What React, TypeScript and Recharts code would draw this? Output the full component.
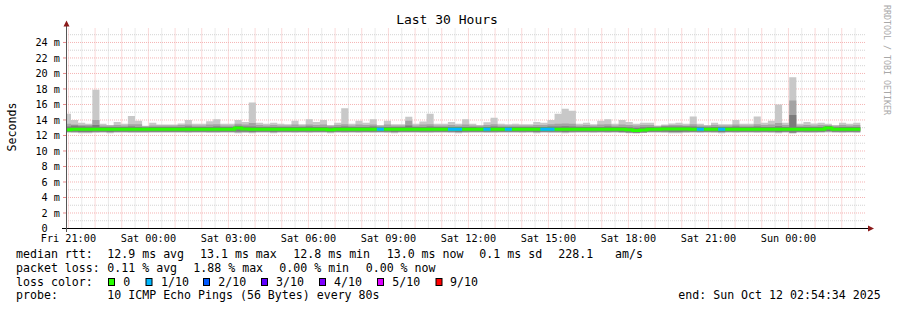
import React from 'react';
import { ComposedChart, Area, Line, XAxis, YAxis, CartesianGrid } from 'recharts';

// ---- time axis (minutes after the graph start, Fri 20:54:34) ----
const FIRST_HOUR = 5 + 26 / 60; // Fri 21:00
const FIRST_EDGE = 11.25; // first 16-minute consolidation boundary
const STEP = 16;
const X_END = 1800;

const hourLabels = [
  'Fri 21:00', 'Sat 00:00', 'Sat 03:00', 'Sat 06:00', 'Sat 09:00',
  'Sat 12:00', 'Sat 15:00', 'Sat 18:00', 'Sat 21:00', 'Sun 00:00',
];

// ---- RTT per 16-minute bucket (ms) ----
const maxRtt = [
  14.8, 14.0, 13.65, 13.5, 17.9, 13.5, 13.35, 13.75, 13.5, 14.5,
  13.9, 13.25, 13.65, 13.4, 13.4, 13.4, 13.55, 14.0, 13.5, 13.5,
  13.85, 14.1, 13.5, 13.5, 14.0, 13.75, 16.25, 13.65, 13.5, 13.65,
  13.5, 13.45, 13.9, 13.45, 14.1, 13.75, 14.0, 13.35, 13.65, 15.5,
  13.5, 13.9, 13.65, 14.1, 13.35, 13.9, 13.45, 13.45, 14.4, 13.5,
  13.8, 14.8, 13.5, 13.5, 13.75, 13.5, 14.1, 13.5, 13.35, 13.7,
  14.3, 13.5, 13.45, 13.5, 13.45, 13.45, 13.75, 13.65, 14.0, 14.8,
  15.45, 15.2, 13.5, 13.65, 13.45, 13.9, 14.1, 13.5, 14.0, 13.75,
  13.5, 13.65, 13.65, 13.3, 13.4, 13.55, 13.65, 13.5, 14.45, 13.5,
  13.35, 13.65, 13.45, 13.45, 14.0, 13.5, 13.5, 14.45, 13.65, 13.9,
  16.0, 13.65, 19.5, 13.5, 13.75, 13.55, 13.65, 13.5, 13.35, 13.65,
  13.5, 13.65,
];
const minRtt = [
  12.4, 12.35, 12.3, 12.3, 12.35, 12.4, 12.3, 12.4, 12.4, 12.35,
  12.35, 12.35, 12.4, 12.4, 12.4, 12.4, 12.4, 12.35, 12.4, 12.4,
  12.35, 12.35, 12.4, 12.4, 12.3, 12.35, 12.3, 12.4, 12.4, 12.3,
  12.4, 12.4, 12.35, 12.4, 12.35, 12.4, 12.4, 12.3, 12.4, 12.35,
  12.4, 12.35, 12.4, 12.35, 12.4, 12.35, 12.3, 12.4, 12.4, 12.4,
  12.35, 12.35, 12.4, 12.4, 12.35, 12.3, 12.35, 12.4, 12.4, 12.35,
  12.35, 12.4, 12.4, 12.4, 12.35, 12.4, 12.3, 12.4, 12.35, 12.35,
  12.3, 12.35, 12.4, 12.4, 12.35, 12.4, 12.35, 12.4, 12.35, 12.3,
  12.25, 12.35, 12.4, 12.4, 12.35, 12.3, 12.3, 12.35, 12.4, 12.35,
  12.4, 12.35, 12.3, 12.4, 12.35, 12.4, 12.4, 12.35, 12.4, 12.35,
  12.3, 12.4, 12.25, 12.4, 12.35, 12.35, 12.4, 12.4, 12.4, 12.35,
  12.4, 12.35,
];
const midHi = [
  13.5, 13.4, 13.35, 13.35, 14.0, 13.3, 13.3, 13.35, 13.3, 13.45,
  13.45, 13.2, 13.3, 13.3, 13.3, 13.3, 13.35, 13.4, 13.3, 13.3,
  13.4, 13.45, 13.3, 13.3, 13.5, 13.4, 13.6, 13.35, 13.3, 13.35,
  13.3, 13.3, 13.4, 13.3, 13.4, 13.35, 13.4, 13.25, 13.35, 13.45,
  13.3, 13.4, 13.35, 13.4, 13.25, 13.4, 13.3, 13.3, 13.9, 13.3,
  13.4, 13.45, 13.3, 13.3, 13.35, 13.3, 13.4, 13.3, 13.25, 13.35,
  13.45, 13.3, 13.3, 13.3, 13.3, 13.3, 13.35, 13.35, 13.45, 13.5,
  13.55, 13.5, 13.3, 13.35, 13.3, 13.4, 13.45, 13.3, 13.4, 13.35,
  13.3, 13.35, 13.35, 13.2, 13.3, 13.35, 13.35, 13.3, 13.45, 13.3,
  13.25, 13.35, 13.3, 13.3, 13.4, 13.3, 13.3, 13.45, 13.35, 13.4,
  13.6, 13.35, 16.5, 13.3, 13.35, 13.3, 13.35, 13.3, 13.25, 13.35,
  13.3, 13.35,
];
const midLo = [
  12.42, 12.42, 12.38, 12.38, 12.42, 12.42, 12.38, 12.42, 12.42, 12.42,
  12.42, 12.42, 12.42, 12.42, 12.42, 12.42, 12.42, 12.42, 12.42, 12.42,
  12.42, 12.42, 12.42, 12.42, 12.38, 12.42, 12.38, 12.42, 12.42, 12.38,
  12.42, 12.42, 12.42, 12.42, 12.42, 12.42, 12.42, 12.38, 12.42, 12.42,
  12.42, 12.42, 12.42, 12.42, 12.42, 12.42, 12.38, 12.42, 12.42, 12.42,
  12.42, 12.42, 12.42, 12.42, 12.42, 12.38, 12.42, 12.42, 12.42, 12.42,
  12.42, 12.42, 12.42, 12.42, 12.42, 12.42, 12.38, 12.42, 12.42, 12.42,
  12.38, 12.42, 12.42, 12.42, 12.42, 12.42, 12.42, 12.42, 12.38, 12.38,
  12.32, 12.38, 12.42, 12.42, 12.42, 12.38, 12.38, 12.42, 12.42, 12.42,
  12.42, 12.42, 12.38, 12.42, 12.42, 12.42, 12.42, 12.42, 12.42, 12.42,
  12.38, 12.42, 12.32, 12.42, 12.42, 12.42, 12.42, 12.48, 12.42, 12.42,
  12.42, 12.42,
];
const darkHi = [
  13.15, 13.3, 13.2, 13.15, 13.35, 13.1, 13.1, 13.1, 13.1, 13.15,
  13.1, 13.05, 13.1, 13.1, 13.1, 13.1, 13.1, 13.15, 13.1, 13.1,
  13.1, 13.15, 13.1, 13.1, 13.25, 13.15, 13.15, 13.1, 13.1, 13.1,
  13.1, 13.1, 13.1, 13.1, 13.15, 13.1, 13.1, 13.05, 13.1, 13.15,
  13.1, 13.1, 13.1, 13.15, 13.05, 13.1, 13.1, 13.1, 13.3, 13.1,
  13.1, 13.15, 13.1, 13.1, 13.1, 13.1, 13.1, 13.1, 13.05, 13.1,
  13.15, 13.1, 13.1, 13.1, 13.1, 13.1, 13.1, 13.1, 13.15, 13.15,
  13.2, 13.15, 13.1, 13.1, 13.1, 13.1, 13.15, 13.1, 13.1, 13.05,
  13.0, 13.05, 13.1, 13.05, 13.15, 13.15, 13.15, 13.15, 13.15, 13.1,
  13.05, 13.1, 13.1, 13.1, 13.15, 13.1, 13.1, 13.15, 13.1, 13.1,
  13.2, 13.1, 14.65, 13.1, 13.1, 13.1, 13.1, 13.25, 13.05, 13.1,
  13.1, 13.1,
];
const darkLo = [
  12.47, 12.47, 12.44, 12.44, 12.47, 12.47, 12.44, 12.47, 12.47, 12.47,
  12.47, 12.47, 12.47, 12.47, 12.47, 12.47, 12.47, 12.47, 12.47, 12.47,
  12.47, 12.47, 12.47, 12.47, 12.47, 12.47, 12.44, 12.47, 12.47, 12.44,
  12.47, 12.47, 12.47, 12.47, 12.47, 12.47, 12.47, 12.44, 12.47, 12.47,
  12.47, 12.47, 12.47, 12.47, 12.47, 12.47, 12.44, 12.47, 12.47, 12.47,
  12.47, 12.47, 12.47, 12.47, 12.47, 12.44, 12.47, 12.47, 12.47, 12.47,
  12.47, 12.47, 12.47, 12.47, 12.47, 12.47, 12.44, 12.47, 12.47, 12.47,
  12.44, 12.47, 12.47, 12.47, 12.47, 12.47, 12.47, 12.47, 12.44, 12.4,
  12.36, 12.4, 12.47, 12.47, 12.47, 12.44, 12.44, 12.47, 12.47, 12.47,
  12.47, 12.47, 12.44, 12.47, 12.47, 12.47, 12.47, 12.47, 12.47, 12.47,
  12.44, 12.47, 12.38, 12.47, 12.47, 12.47, 12.47, 12.55, 12.47, 12.47,
  12.47, 12.47,
];
const medianRtt = [
  12.75, 12.8, 12.8, 12.8, 12.8, 12.8, 12.8, 12.8, 12.8, 12.8,
  12.8, 12.8, 12.8, 12.8, 12.8, 12.8, 12.8, 12.8, 12.8, 12.8,
  12.8, 12.8, 12.8, 12.8, 12.95, 12.85, 12.8, 12.8, 12.8, 12.8,
  12.8, 12.8, 12.8, 12.8, 12.8, 12.8, 12.8, 12.75, 12.8, 12.8,
  12.8, 12.8, 12.8, 12.8, 12.8, 12.8, 12.8, 12.8, 12.8, 12.8,
  12.8, 12.8, 12.8, 12.8, 12.8, 12.8, 12.8, 12.8, 12.8, 12.8,
  12.8, 12.8, 12.8, 12.8, 12.8, 12.8, 12.8, 12.8, 12.8, 12.8,
  12.8, 12.8, 12.8, 12.8, 12.8, 12.8, 12.8, 12.8, 12.8, 12.75,
  12.65, 12.7, 12.8, 12.8, 12.85, 12.85, 12.85, 12.85, 12.8, 12.8,
  12.8, 12.8, 12.8, 12.8, 12.8, 12.8, 12.8, 12.8, 12.8, 12.8,
  12.8, 12.8, 12.8, 12.8, 12.8, 12.8, 12.8, 12.95, 12.8, 12.8,
  12.8, 12.8,
];
// lost pings out of 10 per bucket
const lossTenths = [
  0, 0, 0, 0, 0, 0, 0, 0, 0, 0,
  0, 0, 0, 0, 0, 0, 0, 0, 0, 0,
  0, 0, 0, 0, 0, 0, 0, 0, 0, 0,
  0, 0, 0, 0, 0, 0, 0, 0, 0, 0,
  0, 0, 0, 0, 1, 0, 0, 0, 0, 0,
  0, 0, 0, 0, 1, 1, 0, 0, 0, 1,
  0, 0, 1, 0, 0, 0, 0, 1, 1, 0,
  0, 0, 0, 0, 0, 0, 0, 0, 0, 0,
  0, 0, 0, 0, 0, 0, 0, 0, 0, 1,
  0, 0, 1, 0, 0, 0, 0, 0, 0, 0,
  0, 0, 0, 0, 0, 0, 0, 0, 0, 0,
  0, 0,
];

const lossColors = ['#26ff00', '#00b8ff', '#0059ff', '#5e00ff', '#7e00ff', '#dd00ff', '#ff0000'];
const lossLabels = ['0', '1/10', '2/10', '3/10', '4/10', '5/10', '9/10'];

const majorY = [0, 2, 4, 6, 8, 10, 12, 14, 16, 18, 20, 22, 24];
const minorY = [1, 3, 5, 7, 9, 11, 13, 15, 17, 19, 21, 23, 25];
const hourLines = Array.from({ length: 30 }, (_, i) => FIRST_HOUR + 60 * i);
const halfHourLines = Array.from({ length: 30 }, (_, i) => FIRST_HOUR + 30 + 60 * i);
const labelTicks = hourLabels.map((_, i) => FIRST_HOUR + 180 * i);

// build step table: two rows per bucket (start, end)
const rows: any[] = [];
maxRtt.forEach((mx, k) => {
  const s = k === 0 ? 0 : FIRST_EDGE + STEP * (k - 1);
  const e = FIRST_EDGE + STEP * k;
  const base = {
    light: [minRtt[k], mx],
    mid: [midLo[k], midHi[k]],
    dark: [darkLo[k], darkHi[k]],
    med: medianRtt[k],
    loss1: lossTenths[k] === 1 ? medianRtt[k] : null,
  };
  rows.push({ t: s, ...base }, { t: e, ...base });
});

const MONO = "'DejaVu Sans Mono', monospace";
const FS = 11.6;

const T = ({ x, y, children, anchor }: any) => (
  <text x={x} y={y} fontFamily={MONO} fontSize={FS} fill="#000" textAnchor={anchor || 'start'} xmlSpace="preserve">
    {children}
  </text>
);

export default function App() {
  const boxX = [108.5, 146, 203.5, 261.5, 319.5, 377.5, 436];
  const boxLabelX = [123.3, 161, 218.3, 276, 334, 392.3, 450];
  return (
    <div style={{ position: 'absolute', left: 0, top: 0, width: 897, height: 310, background: '#fff' }}>
      <ComposedChart
        width={897}
        height={310}
        data={rows}
        margin={{ top: 28.5, right: 31, left: 0, bottom: 0 }}
      >
        <CartesianGrid
          horizontalValues={minorY}
          verticalValues={halfHourLines}
          stroke="#d4d4d4"
          strokeDasharray="1 1"
        />
        <CartesianGrid
          horizontalValues={majorY.slice(1)}
          verticalValues={hourLines}
          stroke="#f5b4b4"
          strokeDasharray="1 1"
        />
        <XAxis
          xAxisId="hours"
          type="number"
          dataKey="t"
          domain={[0, X_END]}
          allowDataOverflow
          ticks={hourLines}
          tickFormatter={() => ''}
          axisLine={false}
          tickLine={{ stroke: '#e88a8a' }}
          tickSize={2}
          height={0}
        />
        <XAxis
          type="number"
          dataKey="t"
          domain={[0, X_END]}
          allowDataOverflow
          ticks={labelTicks}
          tickFormatter={(_v: number, i: number) => hourLabels[i]}
          interval={0}
          axisLine={false}
          tickLine={false}
          tickSize={4}
          tickMargin={2.5}
          height={81.5}
          tick={{ fontFamily: MONO, fontSize: 10.2, fill: '#000' }}
        />
        <YAxis
          type="number"
          domain={[0, 25.8]}
          allowDataOverflow
          ticks={majorY}
          interval={0}
          tickFormatter={(v: number) => (v === 0 ? '0\u00a0\u00a0' : `${v} m`)}
          width={66}
          axisLine={false}
          tickLine={{ stroke: '#e88a8a' }}
          tickSize={3}
          tickMargin={3}
          tick={{ fontFamily: MONO, fontSize: 10.2, fill: '#000' }}
        />
        <Area dataKey="light" type="linear" stroke="none" fill="#c8c8c8" fillOpacity={1} dot={false} activeDot={false} isAnimationActive={false} />
        <Area dataKey="mid" type="linear" stroke="none" fill="#a4a4a4" fillOpacity={1} dot={false} activeDot={false} isAnimationActive={false} />
        <Area dataKey="dark" type="linear" stroke="none" fill="#7c7c7c" fillOpacity={1} dot={false} activeDot={false} isAnimationActive={false} />
        <Line dataKey="med" type="linear" stroke={lossColors[0]} strokeWidth={3} dot={false} activeDot={false} isAnimationActive={false} />
        <Line dataKey="loss1" type="linear" stroke={lossColors[1]} strokeWidth={3} dot={false} activeDot={false} connectNulls={false} isAnimationActive={false} />
      </ComposedChart>
      <svg width={897} height={310} style={{ position: 'absolute', left: 0, top: 0, pointerEvents: 'none' }}>
        {/* axes */}
        <line x1={62} y1={228.5} x2={869} y2={228.5} stroke="#000" strokeWidth={1} />
        <line x1={66.5} y1={232} x2={66.5} y2={25} stroke="#555" strokeWidth={1} />
        <polygon points="66.5,20.5 63.5,26.5 69.5,26.5" fill="#8b1a1a" />
        <polygon points="874,228.5 868,225.5 868,231.5" fill="#8b1a1a" />
        {/* title */}
        <text x={447} y={24.3} fontFamily={MONO} fontSize={13} textAnchor="middle" fill="#000">Last 30 Hours</text>
        <text x={16} y={127} fontFamily={MONO} fontSize={FS} textAnchor="middle" fill="#000" transform="rotate(-90 16 127)">Seconds</text>
        <text x={884} y={5} fontFamily={MONO} fontSize={8.3} fill="#a8a8a8" transform="rotate(90 884 5)">RRDTOOL / TOBI OETIKER</text>
        {/* legend */}
        <T x={16} y={258}>median rtt:</T>
        <T x={107.3} y={258}>12.9 ms avg</T>
        <T x={200} y={258}>13.1 ms max</T>
        <T x={293.3} y={258}>12.8 ms min</T>
        <T x={386.7} y={258}>13.0 ms now</T>
        <T x={479.3} y={258}>0.1 ms sd</T>
        <T x={558.3} y={258}>228.1</T>
        <T x={615} y={258}>am/s</T>
        <T x={16} y={272}>packet loss:</T>
        <T x={107.3} y={272}>0.11 % avg</T>
        <T x={193.3} y={272}>1.88 % max</T>
        <T x={279.3} y={272}>0.00 % min</T>
        <T x={365.7} y={272}>0.00 % now</T>
        <T x={16} y={285.6}>loss color:</T>
        {lossColors.map((c, i) => (
          <g key={c}>
            <rect x={boxX[i]} y={278.5} width={6} height={7} fill={c} stroke="#000" strokeWidth={1} />
            <T x={boxLabelX[i]} y={285.6}>{lossLabels[i]}</T>
          </g>
        ))}
        <T x={16} y={299.3}>probe:</T>
        <T x={107.3} y={299.3}>10 ICMP Echo Pings (56 Bytes) every 80s</T>
        <T x={678.3} y={299.3}>end: Sun Oct 12 02:54:34 2025</T>
      </svg>
    </div>
  );
}
